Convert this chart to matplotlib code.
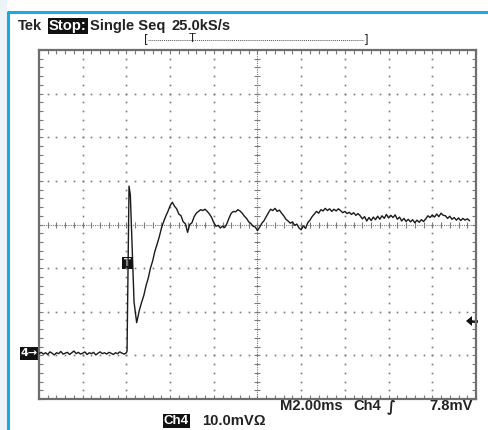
import numpy as np
import matplotlib
matplotlib.use("Agg")
import matplotlib.pyplot as plt
from matplotlib.patches import Rectangle, Polygon

# ---------------- data (time in ms, amplitude in mV) ----------------
base_t = np.round(np.arange(-10.0, -5.99, 0.1), 2)
base_v = [-29.6, -29.3, -29.7, -29.4, -29.8, -29.2, -29.5, -29.9, -29.4, -29.6,
          -29.1, -29.7, -29.5, -29.3, -29.8, -29.4, -29.0, -29.6, -29.3, -29.7,
          -29.5, -29.2, -29.8, -29.4, -29.6, -29.3, -29.9, -29.5, -29.2, -29.6,
          -29.4, -29.7, -29.3, -29.5, -29.8, -29.4, -29.6, -29.2, -29.5, -29.7,
          -29.4]

spike_t = [-5.97, -5.88, -5.82, -5.65, -5.53]
spike_v = [-29.0, 8.8, 6.8, -17.8, -22.5]

ring_t = np.round(np.arange(-5.4, 9.71, 0.1), 2)
ring_v = [-19.5, -17.8, -16.2, -14.0, -12.3, -10.0, -8.4, -6.2, -4.6, -2.9,
          -0.9, 0.6, 1.9, 3.0, 4.3, 5.1, 4.2, 3.6, 2.4, 2.0,
          0.6, 0.2, -1.8, 0.0, 0.4, 1.8, 2.6, 3.0, 3.4, 3.2,
          3.5, 3.0, 2.4, 1.6, 0.4, -0.4, -0.2, -0.8, -0.4, -0.7,
          0.2, 1.5, 2.6, 3.0, 2.9, 3.4, 3.1, 2.6, 1.9, 1.4,
          0.6, 0.2, -0.4, -0.6, -1.4, -0.6, 0.3, 0.9, 1.8, 2.7,
          3.5, 3.2, 3.7, 3.0, 3.3, 2.6, 2.0, 1.2, 0.8, 0.3,
          0.6, -0.2, 0.1, -0.8, -1.2, -0.3, -0.9, 0.4, 1.0, 1.8,
          2.4, 3.0, 2.6, 3.4, 3.1, 3.7, 3.2, 3.6, 3.0, 3.5,
          3.1, 3.6, 3.2, 2.7, 3.0, 2.5, 2.8, 2.3, 2.7, 2.1,
          2.5, 2.0, 1.3, 1.8, 0.8, 1.6, 0.9, 1.7, 1.1, 1.9,
          1.2, 2.0, 1.4, 2.3, 1.5, 2.1, 1.6, 2.2, 1.2, 1.7,
          0.8, 1.4, 0.7, 1.2, 0.6, 1.1, 0.4, 1.0, 0.5, 1.1,
          0.7, 1.3, 2.0, 1.6, 2.2, 1.7, 2.4, 1.8, 2.6, 2.1,
          2.0, 1.4, 1.9, 1.2, 1.6, 1.0, 1.5, 0.9, 1.4, 1.0,
          1.3, 0.9]

trace_t = np.concatenate([base_t, spike_t, ring_t])
trace_v = np.concatenate([base_v, spike_v, ring_v[:len(ring_t)]])

x_range = (-10, 10)      # 2.00 ms/div, 10 div
y_range = (-40, 40)      # 10.0 mV/div, 8 div
x_major = np.arange(-8, 8.1, 2)
y_major = np.arange(-30, 30.1, 10)

W, H = 489, 430
fig = plt.figure(figsize=(W / 100, H / 100), dpi=100)
fig.patch.set_facecolor("white")

# overlay in pixel coordinates for screen decorations
ov = fig.add_axes([0, 0, 1, 1])
ov.set_xlim(0, W)
ov.set_ylim(H, 0)
ov.axis("off")
ov.add_patch(Rectangle((0, 0), 7, H, color="#eef3f7", lw=0))
ov.plot([7.5, 7.5, W], [H, 11.5, 11.5], color="#1ea7e1", lw=2.2, solid_capstyle="butt")

L, R, T, B = 39, 476, 50, 399
ax = fig.add_axes([L / W, (H - B) / H, (R - L) / W, (B - T) / H])
ax.set_xlim(*x_range)
ax.set_ylim(*y_range)
ax.set_facecolor("none")
gc = "#7a7a7a"
for s in ax.spines.values():
    s.set_color("#6e6e6e")
    s.set_linewidth(1.6)
ax.set_xticks(np.arange(-10, 10.01, 0.4), minor=True)
ax.set_yticks(np.arange(-40, 40.01, 2), minor=True)
ax.set_xticks([])
ax.set_yticks([])
ax.tick_params(which="minor", direction="in", length=3, width=0.8, color=gc,
               top=True, right=True, labelbottom=False, labelleft=False)

# dotted graticule
ydots = np.arange(-38, 38.1, 2)
xdots = np.arange(-9.6, 9.61, 0.4)
for xm in x_major:
    if abs(xm) < 1e-9:
        continue
    ax.plot(np.full_like(ydots, xm), ydots, ls="none", marker="s", ms=1.2,
            color=gc, mew=0)
for ym in y_major:
    if abs(ym) < 1e-9:
        continue
    ax.plot(xdots, np.full_like(xdots, ym), ls="none", marker="s", ms=1.2,
            color=gc, mew=0)
# centre cross with ticks
ax.axhline(0, color=gc, lw=0.8, ls=(0, (1, 1)))
ax.axvline(0, color=gc, lw=0.8, ls=(0, (1, 1)))
ax.plot(xdots, np.zeros_like(xdots), ls="none", marker="|", ms=4, mew=0.8, color=gc)
ax.plot(np.zeros_like(ydots), ydots, ls="none", marker="_", ms=4, mew=0.8, color=gc)

# waveform
ax.plot(trace_t, trace_v, color="#1a1a1a", lw=1.0, zorder=5)

# ---------------- text ----------------
FAM = ["Liberation Sans", "DejaVu Sans"]
FS = 10.6
fnt = dict(family=FAM, fontweight="bold", fontsize=FS, color="#222222")
ov.text(18, 26, "Tek", ha="left", va="center", **fnt)
ov.text(49, 26, "Stop:", ha="left", va="center", color="white",
        family=FAM, fontweight="bold", fontsize=FS,
        bbox=dict(boxstyle="square,pad=0.08", fc="#111111", ec="none"))
ov.text(90, 26, "Single Seq", ha="left", va="center", **fnt)
ov.text(171, 26, "25.0kS/s", ha="left", va="center", **fnt)

# record view bar
ov.plot([148, 364], [39.5, 39.5], color="#555555", lw=0.7, ls=(0, (1, 1)))
ov.text(146, 40, "[", ha="center", va="center", fontsize=8.5, color="#222222")
ov.text(366, 40, "]", ha="center", va="center", fontsize=8.5, color="#222222")
ov.text(192, 39, "T", ha="center", va="center", fontsize=8.5, color="#222222",
        family=FAM)

# bottom readouts
BY = 406.5
ov.text(280, BY, "M2.00ms", ha="left", va="center", **fnt)
ov.text(353, BY, "Ch4", ha="left", va="center", **fnt)
ov.text(391, BY, "∫", ha="center", va="center", family="DejaVu Sans",
        fontweight="bold", fontsize=FS, color="#222222")
ov.text(473, BY, "7.8mV", ha="right", va="center", **fnt)
ov.text(164, 421, "Ch4", ha="left", va="center", color="white",
        family=FAM, fontweight="bold", fontsize=9.5,
        bbox=dict(boxstyle="square,pad=0.08", fc="#111111", ec="none"))
ov.text(202, 421, "10.0mVΩ", ha="left", va="center", **fnt)

# channel marker, trigger marker, trigger level arrow
ov.add_patch(Rectangle((20, 347), 18, 13, color="#111111", lw=0))
ov.text(29, 353.5, "4→", ha="center", va="center", color="white",
        family="DejaVu Sans", fontsize=8, fontweight="bold")
ov.add_patch(Rectangle((122, 257), 11, 12, color="#111111", lw=0, zorder=6))
ov.text(127.5, 263, "T", ha="center", va="center", color="white",
        fontsize=7, fontweight="bold", zorder=7)
ov.add_patch(Polygon([[466, 321], [472, 316], [472, 326]], closed=True,
                     color="#111111", lw=0))
ov.plot([471, 476], [321, 321], color="#111111", lw=2)

fig.savefig("out.png", dpi=100, facecolor="white")
